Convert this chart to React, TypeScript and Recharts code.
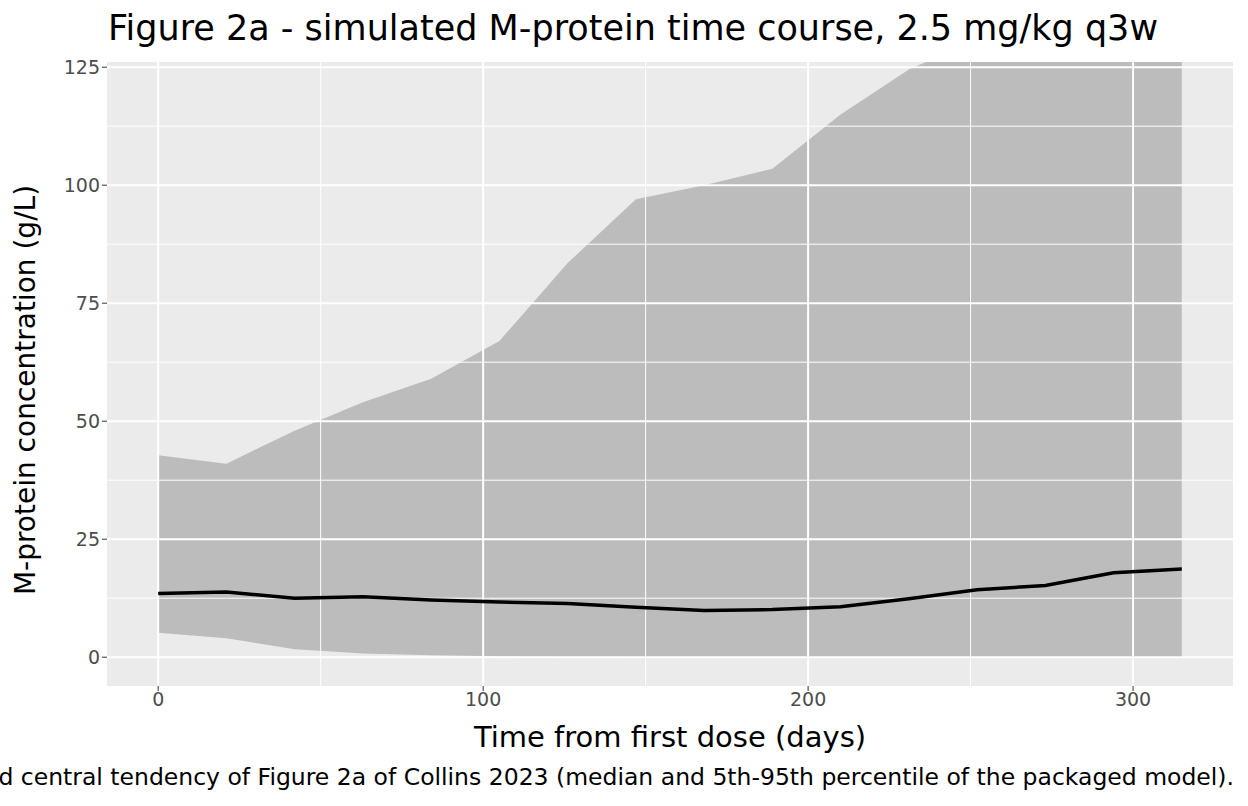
import { ComposedChart, Area, Line, XAxis, YAxis, ReferenceLine } from "recharts";

const days = [0, 21, 42, 63, 84, 105, 126, 147, 168, 189, 210, 231, 252, 273, 294, 315];
const median = [13.5, 13.8, 12.5, 12.8, 12.1, 11.7, 11.4, 10.6, 9.9, 10.1, 10.7, 12.4, 14.3, 15.2, 17.9, 18.7];
const lower = [5.2, 4.0, 1.7, 0.8, 0.4, 0.2, 0.1, 0.05, 0.02, 0.01, 0, 0, 0, 0, 0, 0];
const upper = [42.8, 41.0, 48.0, 54.0, 59.0, 67.0, 83.5, 97.0, 100.0, 103.5, 115.0, 124.5, 131.0, 136.0, 141.0, 146.0];

const xTicks = [0, 100, 200, 300];
const xMinor = [50, 150, 250];
const yTicks = [0, 25, 50, 75, 100, 125];
const yMinor = [12.5, 37.5, 62.5, 87.5, 112.5];

const rows = days.map((d, i) => ({ day: d, median: median[i], band: [lower[i], upper[i]] }));

const FONT = "DejaVu Sans, sans-serif";
const tick = { fill: "#4d4d4d", fontSize: 19, fontFamily: FONT };

export default function App() {
  return (
    <div style={{ position: "fixed", left: 0, top: 0, width: 1248, height: 806, background: "#fff", fontFamily: FONT, overflow: "hidden" }}>
      <div style={{ position: "absolute", left: 108, top: 8, fontSize: 35, color: "#000", whiteSpace: "nowrap" }}>
        Figure 2a - simulated M-protein time course, 2.5 mg/kg q3w
      </div>
      <ComposedChart width={1248} height={806} data={rows} margin={{ top: 62, right: 15, bottom: 0, left: 0 }}>
        <rect x={107} y={62} width={1126} height={624} fill="#ebebeb" />
        {yMinor.map((v) => (
          <ReferenceLine key={"ym" + v} y={v} stroke="#fff" strokeWidth={1} />
        ))}
        {xMinor.map((v) => (
          <ReferenceLine key={"xm" + v} x={v} stroke="#fff" strokeWidth={1} />
        ))}
        {yTicks.map((v) => (
          <ReferenceLine key={"y" + v} y={v} stroke="#fff" strokeWidth={2} />
        ))}
        {xTicks.map((v) => (
          <ReferenceLine key={"x" + v} x={v} stroke="#fff" strokeWidth={2} />
        ))}
        <XAxis
          dataKey="day"
          type="number"
          domain={[-15.75, 330.75]}
          ticks={xTicks}
          tick={tick}
          tickLine={{ stroke: "#333", strokeWidth: 1 }}
          tickSize={5}
          axisLine={false}
          height={120}
          allowDataOverflow
        />
        <YAxis
          type="number"
          domain={[-6.1, 126.1]}
          ticks={yTicks}
          tick={tick}
          tickLine={{ stroke: "#333", strokeWidth: 1 }}
          tickSize={5}
          axisLine={false}
          width={107}
          allowDataOverflow
        />
        <Area dataKey="band" type="linear" stroke="none" fill="#000" fillOpacity={0.2} isAnimationActive={false} />
        <Line dataKey="median" type="linear" stroke="#000" strokeWidth={3.5} dot={false} isAnimationActive={false} />
      </ComposedChart>
      <div style={{ position: "absolute", left: 0, width: 50, top: 390, height: 0 }}>
        <div style={{ position: "absolute", left: 25, top: 0, transform: "translate(-50%,-50%) rotate(-90deg)", fontSize: 28, whiteSpace: "nowrap" }}>
          M-protein concentration (g/L)
        </div>
      </div>
      <div style={{ position: "absolute", left: 107, width: 1126, top: 720, textAlign: "center", fontSize: 29 }}>
        Time from first dose (days)
      </div>
      <div style={{ position: "absolute", right: 14, top: 763, fontSize: 23.5, whiteSpace: "nowrap" }}>
        d central tendency of Figure 2a of Collins 2023 (median and 5th-95th percentile of the packaged model).
      </div>
    </div>
  );
}
